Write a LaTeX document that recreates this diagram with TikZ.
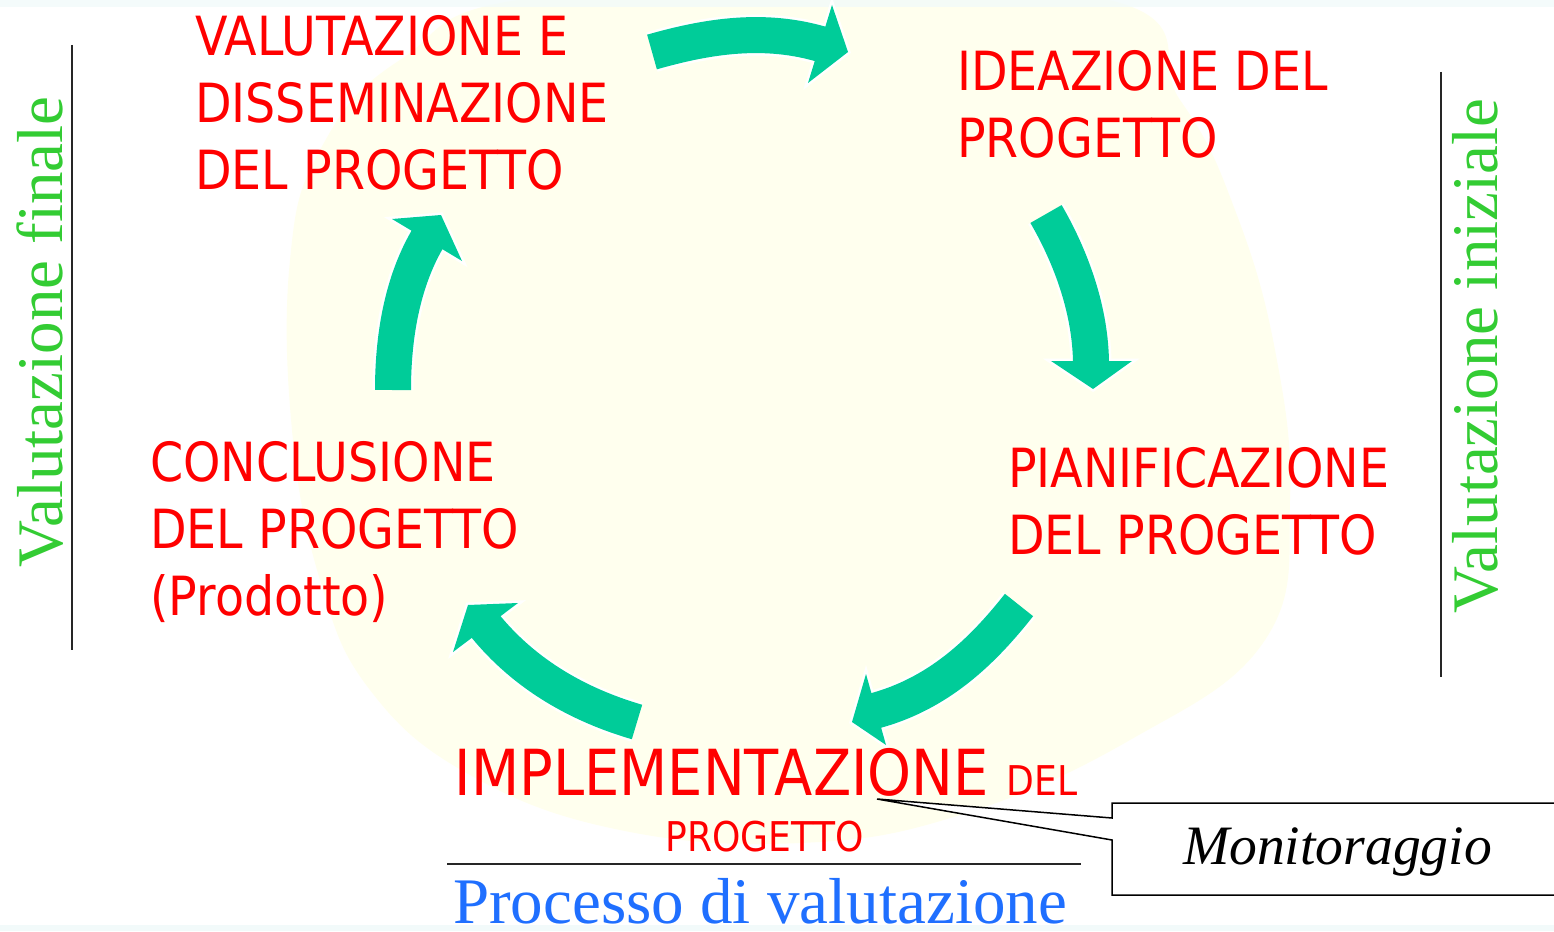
\documentclass[tikz,border=0pt]{standalone}
\usepackage{fontspec}
\setmainfont{Liberation Serif}
\newfontfamily\tahoma[FakeStretch=0.88]{DejaVu Sans}
\definecolor{arrowgreen}{HTML}{00CC99}
\definecolor{labelred}{HTML}{FF0000}
\definecolor{sidegreen}{HTML}{33CC33}
\definecolor{procblue}{HTML}{1F6FFF}
\definecolor{blobyellow}{HTML}{FFFFEE}
\definecolor{hazecyan}{HTML}{F2FAFA}
% #1 tail, #2 #3 controls, #4 shaft end (slightly inside head), #5 #6 #7 barb, tip, barb
\newcommand\blockarrow[7]{%
  \draw[arrowhalo, line width=41pt] (#1) .. controls (#2) and (#3) .. (#4);
  \filldraw[arrowhalo, line width=5pt] (#5) -- (#6) -- (#7) -- cycle;
  \draw[arrowshaft] (#1) .. controls (#2) and (#3) .. (#4);
  \fill[arrowgreen] (#5) -- (#6) -- (#7) -- cycle;
}
\tikzset{
  arrowhalo/.style={draw=white, fill=white, line cap=butt, line join=miter},
  arrowshaft/.style={draw=arrowgreen, line width=36pt, line cap=butt},
  redlabel/.style={text=labelred, font=\tahoma\fontsize{54}{67}\selectfont, align=left, inner sep=0pt},
  sidelabel/.style={text=sidegreen, font=\fontsize{65}{65}\selectfont, inner sep=0pt},
  rulestyle/.style={draw=black!85, line width=1.8pt},
  calloutstyle/.style={draw=black, fill=white, line width=1.5pt, line join=miter},
}
\begin{document}
\begin{tikzpicture}[x=1pt,y=-1pt]
\useasboundingbox (0,0) rectangle (1554,931);
% background
\fill[white] (0,0) rectangle (1554,931);
\fill[blobyellow] plot[smooth cycle, tension=0.7] coordinates {(560,-5) (1085,-5) (1180,100) (1235,210) (1275,350) (1290,500) (1265,640) (1130,740) (960,815) (800,843) (620,830) (470,775) (370,690) (320,580) (292,430) (290,260) (320,150) (400,60)};
\fill[hazecyan, opacity=0.8] (0,0) rectangle (1554,7);
\fill[hazecyan] (0,925) rectangle (1554,931);

% cycle arrows
\blockarrow{652,52}{708,36}{765,27}{824,45}{832,5}{848,52}{808,83}
\blockarrow{1046,214}{1071,257}{1091,311}{1091,365}{1051,361}{1093,389}{1132,361}
\blockarrow{1019,605}{982,652}{938,694}{874,711}{866,674}{852,722}{886,745}
\blockarrow{637,722}{579,705}{525,675}{484.5,625}{518,603}{468,605}{453,652}
\blockarrow{393,390}{393,340}{401,283}{429,236.5}{392,219}{441,215}{462,261}

% phase labels
\node[redlabel, anchor=north west] (valut) at (195,15) {VALUTAZIONE E\\DISSEMINAZIONE\\DEL PROGETTO};
\node[redlabel, anchor=north west] (ideaz) at (957,50) {IDEAZIONE DEL\\PROGETTO};
\node[redlabel, anchor=north west] (pianif) at (1008,447) {PIANIFICAZIONE\\DEL PROGETTO};
\node[redlabel, anchor=north west] (concl) at (150,441) {CONCLUSIONE\\DEL PROGETTO\\(Prodotto)};
\node[text=labelred, inner sep=0pt, anchor=base, font=\tahoma\fontsize{63.5}{63.5}\selectfont] (impl) at (766,795) {IMPLEMENTAZIONE {\fontsize{41}{41}\selectfont DEL}};
\node[text=labelred, inner sep=0pt, anchor=base, font=\tahoma\fontsize{41}{41}\selectfont] (prog) at (764.5,851) {PROGETTO};

% side labels and rules
\draw[rulestyle] (72,45) -- (72,650);
\draw[rulestyle] (1441,72) -- (1441,677);
\node[sidelabel, rotate=90, anchor=base] (vfin) at (62,332) {Valutazione f\kern0pt inale};
\node[sidelabel, rotate=90, anchor=base] (vini) at (1497,356) {Valutazione iniziale};

% bottom title
\draw[rulestyle, line width=2.2pt] (447,864) -- (1081,864);
\node[text=procblue, inner sep=0pt, anchor=base, font=\fontsize{65}{65}\selectfont] (proc) at (760,923) {Processo di valutazione};

% callout
\coordinate (montip) at (877,799);
\draw[calloutstyle] (1560,803) -- (1112,803) -- (1112,818) -- (montip) -- (1112,840) -- (1112,895) -- (1560,895);
\node[inner sep=0pt, anchor=base, font=\itshape\fontsize{55.6}{55.6}\selectfont] (monit) at (1337.5,864) {Monitoraggio};
\end{tikzpicture}
\end{document}
